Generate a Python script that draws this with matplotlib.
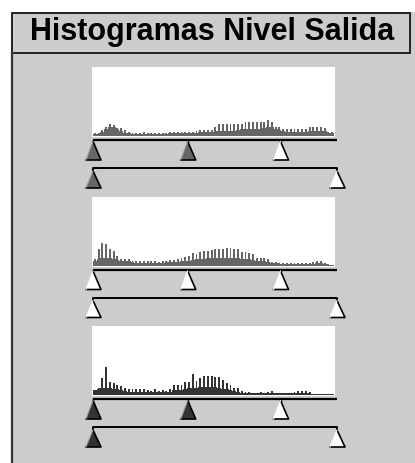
import numpy as np
import matplotlib
matplotlib.use("Agg")
from matplotlib import pyplot as plt
from matplotlib.patches import Rectangle, Polygon

W, H = 415, 463

title = "Histogramas Nivel Salida"

# histogram heights (pixels) per bin of 4 levels, 64 bins: spikes and solid base
spikes1 = [3, 3, 6, 9, 12, 11, 8, 8, 6, 4, 3, 3, 3, 4, 3, 3, 3, 3, 3, 3, 4, 4, 4, 4, 4, 4, 4, 5, 6, 6, 6, 6,
           9, 12, 12, 12, 12, 12, 12, 12, 14, 14, 14, 14, 14, 14, 16, 14, 9, 9, 7, 7, 7, 7, 7, 7, 7, 9, 9, 9, 9, 8, 4, 4]
base1 = [2, 2, 4, 7, 9, 9, 7, 5, 3, 3, 2, 2, 2, 2, 2, 2, 2, 2, 2, 2, 3, 3, 3, 3, 3, 3, 3, 3, 4, 4, 4, 4,
         5, 5, 5, 5, 5, 5, 6, 7, 7, 7, 7, 7, 7, 8, 9, 9, 7, 6, 5, 4, 4, 4, 4, 4, 4, 5, 5, 5, 5, 5, 3, 3]

spikes2 = [7, 17, 23, 22, 17, 15, 10, 7, 7, 7, 5, 5, 5, 5, 5, 5, 5, 4, 5, 5, 6, 6, 7, 8, 9, 10, 13, 12, 14, 15, 15, 16,
           17, 17, 17, 18, 18, 17, 17, 14, 14, 13, 12, 8, 8, 8, 7, 4, 4, 3, 3, 3, 3, 3, 3, 3, 3, 3, 4, 5, 5, 3, 2, 1]
base2 = [5, 7, 8, 8, 8, 7, 6, 5, 5, 5, 4, 3, 3, 3, 3, 3, 3, 3, 3, 4, 4, 4, 4, 5, 5, 5, 6, 7, 7, 7, 8, 8,
         8, 8, 8, 8, 8, 8, 8, 7, 7, 7, 6, 5, 5, 5, 4, 3, 3, 2, 2, 2, 2, 2, 2, 2, 2, 2, 2, 3, 3, 2, 1, 1]

spikes3 = [5, 7, 17, 28, 13, 12, 10, 9, 7, 6, 6, 6, 6, 6, 5, 4, 6, 4, 5, 4, 6, 10, 10, 10, 13, 13, 21, 14, 17, 19, 19, 19,
           18, 18, 15, 12, 10, 7, 7, 4, 3, 3, 2, 2, 3, 2, 3, 4, 2, 2, 2, 2, 2, 3, 4, 4, 4, 3, 1, 1, 1, 1, 1, 1]
base3 = [5, 6, 7, 7, 7, 6, 6, 5, 4, 3, 3, 3, 3, 3, 3, 3, 3, 3, 3, 3, 3, 5, 5, 5, 6, 7, 7, 7, 8, 8, 8, 8,
         8, 7, 6, 6, 5, 4, 3, 2, 2, 2, 2, 2, 2, 2, 2, 2, 2, 2, 2, 2, 2, 2, 2, 2, 2, 2, 1, 1, 1, 1, 1, 1]

# slider positions (levels 0-255)
input_levels = [0, 99, 196]
output_levels = [0, 255]

panels = [
    (spikes1, base1, "#666666", ["#666666", "#666666", "white"], ["#666666", "white"]),
    (spikes2, base2, "#666666", ["white", "white", "white"], ["white", "white"]),
    (spikes3, base3, "#333333", ["#333333", "#333333", "white"], ["#333333", "white"]),
]

fig = plt.figure(figsize=(W / 100, H / 100), dpi=100)


def px_axes(x0, y0, x1, y1):
    return fig.add_axes([x0 / W, 1 - y1 / H, (x1 - x0) / W, (y1 - y0) / H])


bg = fig.add_axes([0, 0, 1, 1])
bg.set_xlim(0, W)
bg.set_ylim(H, 0)
bg.axis("off")
bg.add_patch(Rectangle((11, 12), W - 11, H - 12, facecolor="#cccccc", edgecolor="none"))
bg.add_patch(Rectangle((11.5, 12.5), 398.5, 40, facecolor="none", edgecolor="#222222", lw=1.4))
bg.plot([12, 12], [52, H], color="#333333", lw=1.6, solid_capstyle="butt")
bg.text(212, 32, title, ha="center", va="center", fontsize=22, fontweight="bold",
        family=["Liberation Sans", "DejaVu Sans"], color="black")

s = 244 / 255  # pixels per level on the slider


def triangle(ax, x, top, bottom, color):
    l, r = 7 / s, 8 / s
    ax.add_patch(Polygon([(x, top), (x - l, bottom), (x + r, bottom)], closed=True,
                         facecolor=color, edgecolor="none"))
    ax.plot([x, x + r, x - l], [top, bottom, bottom], color="black", lw=1.2)
    ax.plot([x - l, x], [bottom, top], color="#999999" if color != "white" else "white", lw=0.8)


for k, (spk, base, hcol, in_cols, out_cols) in enumerate(panels):
    top = 67 + 129.5 * k

    hax = px_axes(92, top, 335, top + 70)
    bins = np.arange(len(spk)) * 4
    hax.bar(bins, base, width=4, align="edge", color=hcol, linewidth=0, antialiased=False)
    hax.bar(bins + 1, spk, width=2, align="edge", color=hcol, linewidth=0, antialiased=False)
    hax.set_xlim(-1, 257)
    hax.set_ylim(-1, 69)
    hax.set_facecolor("white")
    hax.set_xticks([])
    hax.set_yticks([])
    for sp in hax.spines.values():
        sp.set_visible(False)

    sax = px_axes(80, top + 70, 350, top + 125)
    sax.set_xlim((80 - 93) / s, (350 - 93) / s)
    sax.set_ylim(55, 0)
    sax.axis("off")

    sax.plot([0, 255], [3, 3], color="black", lw=1.6, solid_capstyle="butt")
    for lv, c in zip(input_levels, in_cols):
        sax.plot([lv, lv], [3, 4.5], color="black", lw=1)
        triangle(sax, lv, 4.5, 23, c)

    sax.plot([0, 0, 255, 255], [34, 31, 31, 34], color="black", lw=1.4)
    for lv, c in zip(output_levels, out_cols):
        triangle(sax, lv, 34, 51, c)

fig.savefig("out.png", dpi=100)
